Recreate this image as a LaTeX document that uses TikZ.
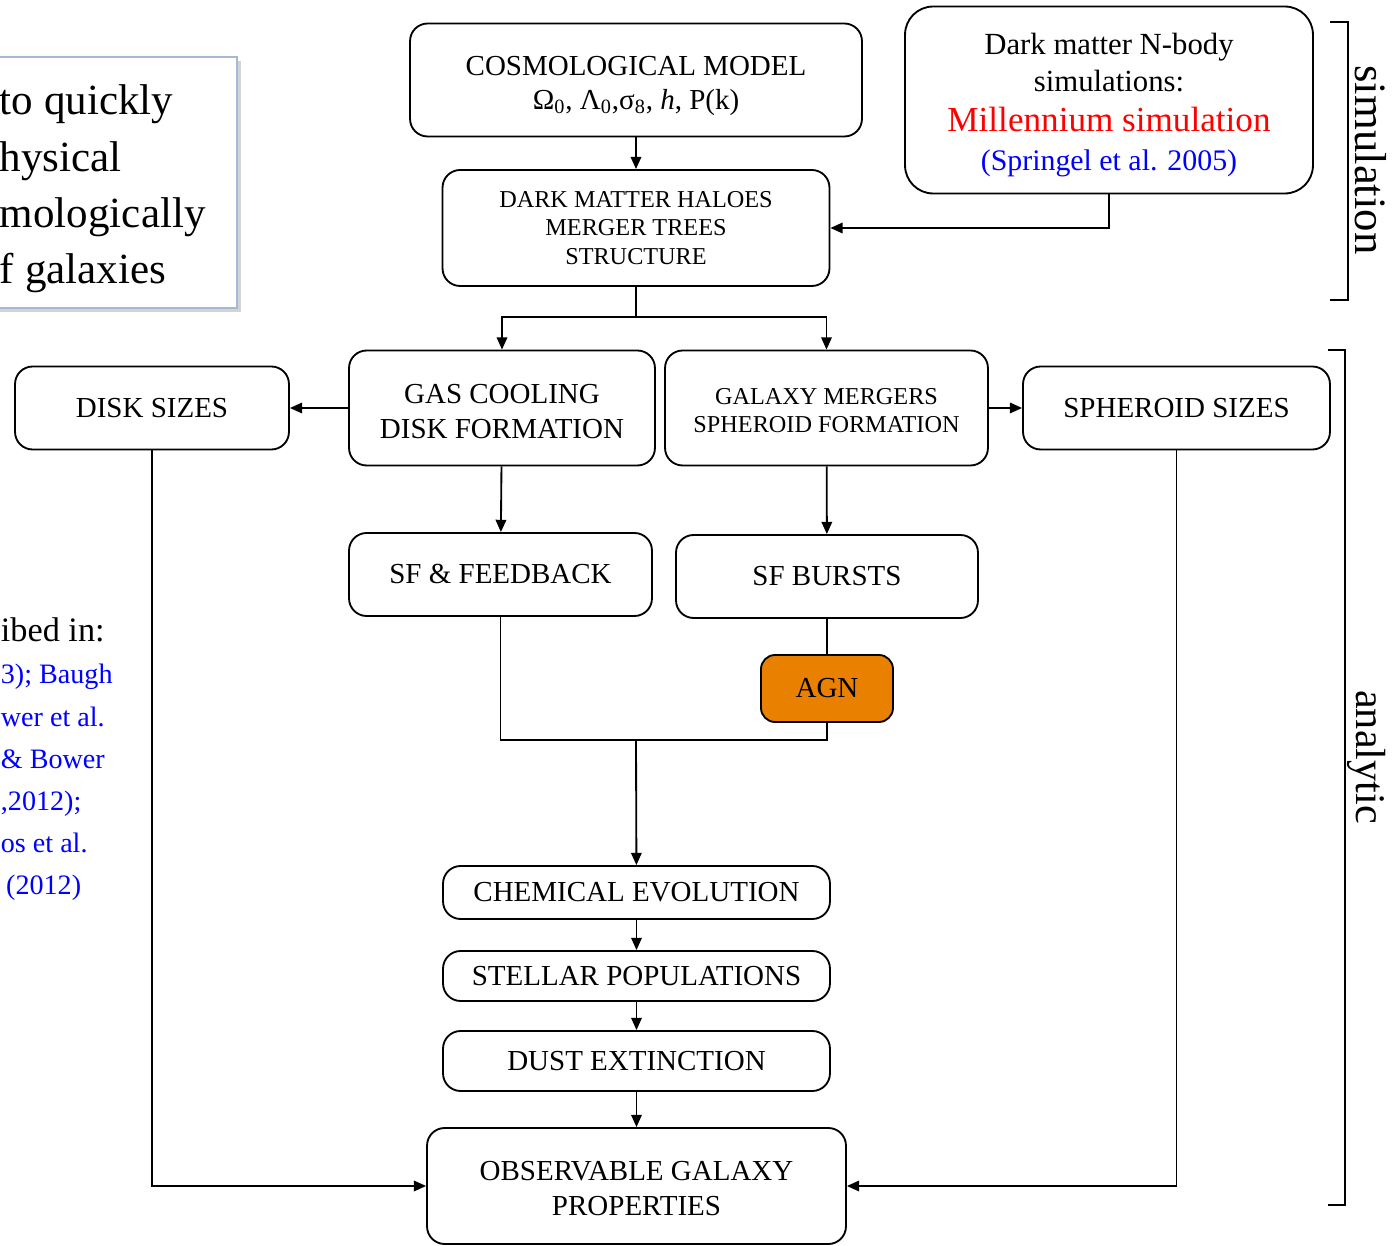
\documentclass[tikz,border=0pt]{standalone}
\usepackage{fontspec}
\setmainfont{Liberation Serif}
\usetikzlibrary{positioning,calc,arrows.meta,shadows}
\definecolor{agnorange}{RGB}{233,128,0}
\definecolor{aimedge}{RGB}{165,185,215}

\begin{document}
\begin{tikzpicture}[x=0.02cm,y=-0.02cm,->,>={Triangle[length=7pt,width=6pt]},
        line width=1.05pt,
        main node/.style={draw, rectangle, rounded corners=10pt, align=center, fill=white,
          font=\fontsize{16.5}{20}\selectfont},
        small node/.style={main node, font=\fontsize{13.8}{16}\selectfont}]

\useasboundingbox (0,0) rectangle (1394,1246);
\clip (0,0) rectangle (1394,1246);

% left-hand slide text, cut by the edge
\node[draw=aimedge, line width=1.2pt, fill=white, drop shadow={opacity=0.35},
  minimum width=5.14cm, minimum height=5.02cm] (aim) at (108.5,182.5) {};
\node[anchor=west, align=left, inner sep=0, font=\fontsize{24.5}{32}\selectfont] (aimtext) at (-1,189)
  {to quickly\\hysical\\mologically\\f galaxies};
\node[anchor=north west, align=left, inner sep=0, font=\fontsize{16}{24}\selectfont] (refs) at (0,617)
  {{\fontsize{19.5}{24}\selectfont ibed in:}\\ \color{blue}3); Baugh\\ \color{blue}wer et al.\\ \color{blue}\& Bower\\
   \color{blue},2012);\\ \color{blue}os et al.\\ \color{blue}\hspace*{3pt}(2012)};

\node[main node, minimum width=9.04cm, minimum height=2.26cm] (cosmo) at (636,80)
  {\rule{0pt}{17.7pt}COSMOLOGICAL MODEL\\[-1pt] Ω\textsubscript{0}, Λ\textsubscript{0},σ\textsubscript{8}, \textit{h}, P(k)};
\node[main node, rounded corners=16pt, minimum width=8.16cm, minimum height=3.74cm,
  font=\fontsize{17.5}{22}\selectfont] (sims) at (1109,100)
  {\rule{0pt}{17.6pt}Dark matter N-body\\[-1pt] simulations:\\[1pt]
   {\color{red}\fontsize{20}{22}\selectfont Millennium simulation}\\
   {\color{blue}\fontsize{17}{22}\selectfont(Springel et al. 2005)}};
\node[small node, minimum width=7.74cm, minimum height=2.32cm] (haloes) at (636,228)
  {DARK MATTER HALOES\\ MERGER TREES\\ STRUCTURE};

\node[main node, minimum width=6.12cm, minimum height=2.3cm] (gas) at (502,408)
  {\rule{0pt}{15.4pt}GAS COOLING\\ DISK FORMATION};
\node[small node, minimum width=6.46cm, minimum height=2.3cm] (mergers) at (826.5,408)
  {\rule{0pt}{12.4pt}GALAXY MERGERS\\ SPHEROID FORMATION};
\node[main node, minimum width=5.48cm, minimum height=1.66cm] (disk) at (152,408) {DISK SIZES};
\node[main node, minimum width=6.14cm, minimum height=1.66cm] (spheroid) at (1176.5,408) {SPHEROID SIZES};

\node[main node, minimum width=6.06cm, minimum height=1.66cm] (sffb) at (500.5,574.5) {SF \& FEEDBACK};
\node[main node, minimum width=6.04cm, minimum height=1.66cm] (bursts) at (827,576.5) {SF BURSTS};

\node[main node, minimum width=7.74cm, minimum height=1.06cm] (chem) at (636.5,892.5) {CHEMICAL EVOLUTION};
\node[main node, minimum width=7.74cm, minimum height=1.0cm] (stellar) at (636.5,976) {STELLAR POPULATIONS};
\node[main node, minimum width=7.74cm, minimum height=1.2cm] (dust) at (636.5,1061) {DUST EXTINCTION};
\node[main node, minimum width=8.38cm, minimum height=2.32cm] (obs) at (636.5,1186)
  {\rule{0pt}{14.3pt}OBSERVABLE GALAXY\\ PROPERTIES};

\coordinate (split) at (636,317);
\coordinate (join) at (636,740);

\draw (cosmo) -- (haloes);
\draw (sims.south) |- (haloes.east);
\draw[-] (haloes.south) -- (split);
\draw (split) -| (gas);
\draw (split) -| (mergers);
\draw (gas) -- (disk);
\draw (mergers) -- (spheroid);
\draw (gas) -- (sffb);
\draw (mergers) -- (bursts);
\draw[-] (sffb.south) |- (join) -| (bursts.south);
\draw (join) -- (chem);
\draw (chem) -- (stellar);
\draw (stellar) -- (dust);
\draw (dust) -- (obs);
\draw (disk.south) |- (obs.west);
\draw (spheroid.south) |- (obs.east);

\node[main node, fill=agnorange, rounded corners=8pt, minimum width=2.64cm, minimum height=1.34cm] (agn) at (827,688.5) {AGN};

% brackets on the right
\draw[-] (1330,22) -- (1348,22) -- (1348,300) -- (1330,300);
\draw[-] (1328,350) -- (1345,350) -- (1345,1205) -- (1328,1205);
\node[rotate=-90, font=\fontsize{25.5}{25}\selectfont] (simlabel) at (1371,160) {simulation};
\node[rotate=-90, font=\fontsize{24}{24}\selectfont] (analabel) at (1367,757) {analytic};

\end{tikzpicture}
\end{document}
